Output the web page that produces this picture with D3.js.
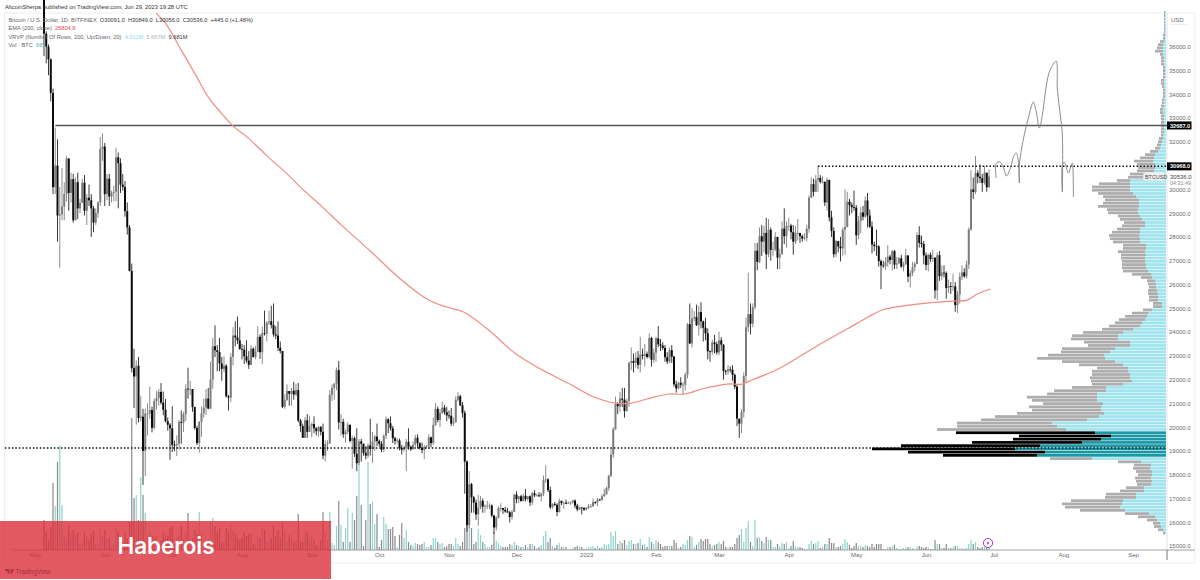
<!DOCTYPE html>
<meta charset="utf-8">
<style>
html, body { margin: 0; padding: 0; background: #fff; }
svg { display: block; font-family: "Liberation Sans", Arial, sans-serif; }
.tick text { fill: #6a6a6a; font-size: 6px; }
.legend { font-size: 5.7px; fill: #555; }
</style>
<body>
<svg class="js-chart" width="1200" height="580"></svg>

<script src="https://d3js.org/d3.v7.min.js"></script>
<script>
"use strict";

// daily bars, first bar is 2022-05-05
var firstDay = 4;
var firstOpen = 39690;
var closes = [
  36550,36000,35470,34060,30090,31000,28900,28950,29280,29800,31300,29850,30430,28700,30300,29200,29430,30280,29100,29650,29540,29200,28600,29000,29450,31700,31800,
  29800,30450,29700,29850,29900,31350,31100,30200,30100,29080,28400,26570,22480,22130,22580,20380,20440,19000,20570,20570,20720,19970,21100,21230,21480,21030,20730,20250,20100,19950,
  19250,19240,19300,20220,20190,20550,21620,21590,21600,20850,19960,19330,20220,20580,20830,21200,20780,22000,23400,23230,23160,22680,22450,22580,21300,21240,22950,23850,23770,23650,23290,
  23260,22980,22800,22620,23300,22950,23170,23800,23150,23950,23930,24400,24450,24300,23900,23850,23340,23200,20850,21150,21520,21400,21530,21370,21560,20270,20040,19550,20290,19800,20050,
  20130,19950,19830,20000,19800,18800,19290,19320,21360,21650,21830,22400,20200,20220,19700,19800,20100,19420,19540,18880,18480,19400,19300,18920,18800,19230,19080,19400,19600,19420,
  19300,19050,19630,20330,20160,19950,19530,19420,19440,19130,19050,19150,19380,19180,19070,19260,19550,19330,19120,19040,19160,19200,19570,19330,20090,20770,20300,20600,20820,20630,20490,
  20480,20150,20210,21150,21300,20920,20600,18550,15880,17600,17050,16820,16330,16620,16900,16660,16680,16700,16700,16280,15780,16200,16600,16600,16520,16450,16420,16220,16440,17160,
  16970,17090,16890,17110,16970,17090,16830,17220,17130,17130,17090,17200,17780,17800,17350,16630,16770,16730,16430,16900,16810,16820,16780,16830,16830,16910,16700,16540,16620,16600,16530,
  16610,16670,16670,16850,16830,16950,16940,17090,17190,17440,17950,18850,19920,20970,20880,21200,21150,20680,21100,22700,22780,22700,22920,22620,23050,23000,23080,22950,23750,22830,23130,
  23730,23480,23430,23330,22940,22760,23240,22960,21800,21630,21860,21780,21780,22200,24330,23520,24570,24630,24290,24840,24450,24180,23940,23190,23160,23560,23490,23140,
  23650,23470,22360,22350,22430,22410,22200,21700,20360,20150,20630,22150,24200,24750,24350,25050,27420,26950,28030,27800,28170,27270,28300,27460,27480,28000,27130,27270,28350,28030,28470,
  28470,28200,27800,28170,28170,28030,27930,27950,28340,29650,30220,29900,30400,30480,30320,30320,29450,30400,28820,28250,27270,27820,27600,27520,28300,28420,29480,29340,29250,29230,
  28070,28670,29030,28850,29530,28900,28430,27680,27620,27600,26980,26800,26780,26930,27170,27030,27400,26830,26890,27100,26750,26850,27220,26330,26480,26720,26870,28080,27750,27700,27220,
  26820,27250,27070,27120,25750,27230,26350,26500,26480,25850,25930,25900,25920,25130,25580,26330,26510,26340,26840,28310,30000,29890,30690,30530,30470,30270,30700,30090,30536
];
var highs = [
  39800,36650,36100,35500,34240,32600,32100,30100,30900,30300,31400,31300,30700,30650,30500,30700,29600,30450,30600,29800,30200,29800,29300,29200,29500,32200,32350,
  31950,30650,30650,29950,30150,31750,31550,31300,30650,30350,29450,28500,26880,23300,22800,22950,21300,20770,20780,21000,21700,20860,21200,21520,21600,21850,21500,21180,20400,20170,
  20880,19430,19650,20300,20700,20650,21800,22500,21950,21600,20850,20050,20250,20870,21200,21600,21650,22750,23750,24280,23450,23750,22950,22980,22650,21350,23100,24200,24450,24650,24200,
  23500,23450,23650,23200,23450,23350,23400,24250,23900,24220,24900,24450,24900,25100,25200,24250,24450,23600,23200,21380,21800,21500,21650,21900,21820,21860,20340,20150,20420,20550,20480,
  20200,20450,20000,20050,20050,20150,19450,19450,21550,21800,21850,22500,22780,20550,20350,19900,20200,20100,19650,19600,19950,19500,19500,19300,19200,19320,20350,19800,19680,20150,
  19480,19400,19700,20450,20370,20450,20050,19600,19550,19520,19250,19220,19500,19950,19220,19400,19680,19700,19350,19350,19250,19250,19700,19600,20400,21020,20870,20750,21080,20930,20850,
  20700,20800,20400,21300,21470,21360,21050,20700,18600,18150,17650,17100,16950,17150,17100,17000,16750,16900,16800,16750,16300,16250,16650,16800,16600,16650,16600,16480,16530,17200,
  17300,17100,17150,17200,17400,17100,17130,17280,17350,17200,17260,17250,17970,18390,17850,17500,16800,16850,16800,17000,16900,16860,16950,16870,16860,16940,16960,16780,16650,16630,16630,
  16630,16760,16770,17000,16880,17020,16990,17170,17400,17500,18000,19100,20000,21280,21050,21470,21650,21650,21200,22750,23350,23100,23150,23200,23800,23300,23500,23180,23950,23800,23300,
  23800,24250,23700,23570,23450,23150,23350,23450,23000,21950,21900,22100,21900,22300,24380,25200,25000,24880,25150,25100,25250,24480,24600,24150,23220,23680,23880,23600,
  24000,23780,23480,22420,22600,22550,22600,22250,21800,20300,20750,22300,24600,26500,25200,25200,27750,27750,28400,28500,28450,28800,28750,28400,27800,28200,28000,27500,28650,29200,28650,
  28800,28550,28500,28450,28750,28150,28100,28150,28500,29750,30500,30450,30600,31000,30600,30550,30320,30500,30400,29100,28400,27880,27830,28000,28400,30000,29900,29600,29450,29950,
  29340,28880,29250,29300,29700,29850,29150,28650,27800,28300,27650,27050,27000,27150,27650,27250,27450,27450,27150,27150,27250,26950,27500,27220,26600,26950,26950,28200,28450,28050,27830,
  27350,27300,27350,27450,27150,27350,27400,26800,26800,26550,26200,26100,26450,26100,25730,26500,26800,26680,27000,28400,30800,30500,31400,30800,31050,30650,31000,30700,30849
];
var lows = [
  35600,35300,34800,33700,29800,29800,27800,26700,28700,28700,29500,29100,29450,28600,28700,28750,29000,29450,28900,28500,29300,28000,28200,28500,28800,29300,31200,
  29300,29550,29300,29450,29500,29500,29200,29850,29950,28850,28100,26550,22300,20800,20100,20200,20250,17570,17950,19650,20350,19780,19900,20730,20900,20950,20500,20200,19850,18630,
  18950,18980,18780,19050,19300,19800,20250,21200,21350,20650,19900,19250,18920,19600,20400,20500,20750,20770,21600,22950,22350,22350,21950,22300,21250,20700,21050,22600,23400,23500,23250,
  22850,22650,22700,22450,22600,22920,22850,23150,22870,22660,23850,23600,24300,24150,23800,23700,23200,23100,20800,20770,21100,20900,20900,21150,21300,20200,19800,19550,19550,19550,19800,
  19570,19750,19650,19600,19650,18650,18550,19000,19300,21100,21150,21550,19900,19650,19550,19350,19700,19350,18250,18750,18150,18400,18550,18800,18650,18700,18800,18500,19000,19200,
  19170,18950,18950,19500,19750,19850,19330,19260,19320,19020,18850,18970,18150,19050,19000,19050,19170,19100,19050,18900,18650,19100,19080,19150,19250,20050,20200,20000,20550,20530,20250,
  20350,20050,20050,20180,21080,20880,20400,17200,15600,15750,16400,16400,16100,15850,16550,16400,16400,16550,16550,16200,15500,15650,16150,16450,16350,16400,16400,15990,16100,16430,
  16800,16800,16870,16880,16870,16900,16680,16730,17060,17090,17070,16870,17100,17650,17270,16550,16570,16680,16260,16400,16720,16560,16760,16780,16730,16780,16590,16460,16500,16330,16480,
  16490,16550,16600,16650,16750,16680,16900,16910,17080,17150,17320,17900,18700,19880,20550,20650,20850,20400,20650,20850,22400,22300,22500,22450,22300,22850,22550,22880,22880,22550,22700,
  22750,23360,23200,23250,22750,22650,22700,22700,21700,21450,21600,21650,21350,21550,22050,23500,23350,24450,24250,23850,24150,23600,23650,22850,22750,23050,23100,23050,
  23020,23200,22000,22200,22200,22300,21950,21600,20050,19550,19750,20400,21900,24000,23900,24200,24950,26600,26900,27200,27350,26650,27150,27000,27200,27400,26650,26650,27250,27700,27550,
  28250,27900,27250,27700,27850,27750,27800,27850,27800,28170,29630,29700,29900,29880,30250,30250,29300,29100,28650,28000,27130,27150,27350,26970,27200,27250,28400,28900,29000,29100,
  27670,27900,28150,28700,28800,28400,28380,27300,27400,27200,26750,25800,26700,26620,26750,26850,26600,26650,26650,26850,26700,26550,26820,26100,25870,26350,26550,26850,27550,27550,26850,
  26600,26550,26950,26950,25400,25350,26150,26200,26300,25400,25650,25600,25730,24850,24800,25200,26180,26280,26250,26650,28250,29600,29800,30250,30280,29900,30200,29900,30056
];
var volumes = [
  30,18,10,23,67,44,88,105,45,14,12,25,16,20,16,18,6,8,18,14,10,16,19,6,7,22,14,
  20,11,12,5,6,22,18,12,8,18,12,28,132,52,55,30,73,55,37,15,18,14,15,14,8,10,18,15,14,22,
  24,6,12,15,24,12,18,37,8,12,20,16,38,18,10,9,10,28,32,24,18,22,8,9,22,18,26,20,16,12,10,
  12,18,14,16,16,6,6,14,12,22,20,9,8,12,25,14,20,12,28,18,8,15,12,8,10,36,8,8,20,18,12,
  14,10,5,5,10,38,18,10,38,7,5,24,49,25,8,22,42,8,37,30,54,86,45,4,30,88,46,48,26,36,
  3,10,33,26,21,21,23,14,3,15,27,12,20,8,5,4,7,6,5,6,8,3,3,5,12,12,8,6,7,3,4,
  6,6,4,12,6,4,8,22,25,26,22,6,8,21,15,8,6,3,3,5,18,9,7,4,3,3,3,6,5,8,
  5,4,3,3,5,3,6,6,4,2,3,5,14,19,8,12,4,2,5,7,3,3,3,1,1,2,3,4,3,3,1,
  2,3,3,4,2,4,2,3,6,5,6,18,14,19,6,9,7,10,5,9,10,6,6,7,11,5,6,3,13,8,6,
  10,8,6,3,4,4,4,4,10,7,2,3,6,5,10,14,13,3,5,8,11,9,11,11,6,4,5,6,
  8,6,9,3,2,3,3,6,12,15,21,8,22,29,8,4,30,12,13,9,7,13,10,10,3,3,6,4,7,6,8,
  2,4,9,4,3,3,2,1,1,6,9,6,7,9,2,3,6,6,12,7,7,3,3,4,6,11,8,5,2,4,
  7,4,4,3,5,4,3,6,3,6,6,6,1,1,3,3,4,5,2,1,1,2,2,3,3,2,1,3,4,3,2,
  3,3,1,1,10,6,6,2,2,6,2,2,3,4,4,2,2,1,2,6,10,6,8,3,2,3,3,3,2
];

// EMA 200: days since 2022-05-01 and price
var emaDays = [53.8,58.3,65,71.7,77,82.8,88.6,94.8,103.7,111.7,118.4,127.3,136.2,149.5,162.9,174.9,182.9,190.5,201.6,213.2,223.9,238.5,247.4,257.7,265.2,271.9,281.7,288.8,296.4,307.5,314.2,318.6,325.3,332,340.9,349.8,360.9,370.3,376.5,385.4,396.5,407.7,414.3,418.8,424.6];
var emaPrices = [37413,36950,35857,34764,33880,33208,32619,32156,31357,30685,30054,29297,28498,27363,26185,25344,25050,24840,24083,23116,22485,21770,21308,21013,21013,21181,21392,21392,21602,21812,21812,21980,22233,22527,23032,23536,24125,24629,24924,25092,25218,25302,25344,25597,25807];

// the hand drawn projection
var brushDays = [427.2,427.2,429,430.8,431.7,433.5,435.2,436.1,437,437.5,437.5,439.2,441.5,443.7,445,446.4,447.7,449.5,450.8,452.6,453.9,454.4,455.7,456.6,456.6,456.6,457.5,459.3,460.2,461,461.5];
var brushPrices = [30475,31106,31148,30811,30559,30895,31442,31526,31232,30265,31022,32073,32998,33671,33251,32578,33125,34386,34933,35269,35395,34176,33125,32283,29886,31022,31148,30685,30895,31106,29676];

// VRVP rows from the bottom up
var rowTotals = [
  3,8,12,13,19,28,41,86,101,104,95,61,60,46,40,29,30,31,28,30,33,32,48,116,
  223,258,294,265,194,153,147,210,
  229,209,209,185,171,149,134,137,123,134,139,119,112,94,74,75,76,74,74,69,87,104,129,118,105,104,78,82,95,94,83,64,57,51,47,41,34,23,13,13,17,17,18,18,17,18,19,25,34,43,44,44,44,45,45,48,43,43,
  53,56,57,54,49,44,42,46,48,58,59,68,63,61,63,68,74,74,67,49,38,36,29,28,29,32,26,21,16,11,9,8,7,5,5,
  5,5,5,5,5,6,6,5,4,4,3,3,3,4,5,5,3,3,3,3,5,5,5,6,11,9,8,6,3,3,2,2,2,2,2,2,2
];
var rowUps = [
  1,3,5,6,9,11,17,41,46,44,43,30,30,22,22,15,14,15,14,14,16,15,25,74,
  129,121,151,126,84,65,55,71,
  100,109,114,79,67,62,65,65,63,69,69,69,60,60,43,34,36,36,38,38,43,51,61,62,56,51,36,36,48,48,43,33,26,24,21,19,18,14,4,4,8,8,8,9,10,10,11,14,15,18,20,20,21,21,20,21,20,20,
  26,26,27,26,26,21,21,24,26,28,28,27,27,27,30,33,36,36,36,36,23,20,12,11,11,13,12,11,8,6,5,4,3,3,2,
  2,2,2,2,2,3,3,2,2,2,1,1,1,2,2,2,1,1,1,1,2,2,2,3,3,3,3,2,1,1,1,1,1,1,1,1,1
];
var rowBase = 15470;
var rowSpan = 136;
var valueAreaFirst = 24;
var valueAreaLast = 31;

var priceTicks = [15000,16000,17000,18000,19000,20000,21000,22000,23000,24000,25000,26000,27000,28000,29000,30000,32000,33000,34000,35000,36000];
var monthStarts = ["2022-05-01","2022-06-01","2022-07-01","2022-08-01","2022-09-01","2022-10-01","2022-11-01","2022-12-01","2023-01-01","2023-02-01","2023-03-01","2023-04-01","2023-05-01","2023-06-01","2023-07-01","2023-08-01","2023-09-01"];
var monthLabels = ["May","Jun","Jul","Aug","Sep","Oct","Nov","Dec","2023","Feb","Mar","Apr","May","Jun","Jul","Aug","Sep"];

var levelPrices = [32687, 30968, 19121];
var levelStartDays = [9, 348, -13.4];
var boxedPrices = [32687, 30968];
var lastPrice = 30536;

var paneLeft = 4.5, paneTop = 13, paneRight = 1167, paneBottom = 550, frameRight = 1195, frameBottom = 563;
var upColor = "#7c7c7c", downColor = "#0c0c0c", upVolume = "#8fd3cc", downVolume = "#8a8a8a";

var svg = d3.select(".js-chart");

var x = d3.scaleUtc()
    .domain([Date.UTC(2022, 4, 1), Date.UTC(2023, 8, 1)])
    .range([35, 1133]);
var y = d3.scaleLinear().domain([15000, 36000]).range([546, 46.7]);
var volumeY = d3.scaleLinear().domain([0, 132]).range([paneBottom, 418]);
var rowX = d3.scaleLinear().domain([0, 294]).range([paneRight - 1, 872]);

function dayToDate(day) {
    return new Date(Date.UTC(2022, 4, 1) + day * 864e5);
}

var bars = closes.map(function(close, i) {
    return {
        date: dayToDate(firstDay + i),
        open: i ? closes[i - 1] : firstOpen,
        close: close,
        high: highs[i],
        low: lows[i],
        volume: volumes[i]
    };
});

// frame
svg.append("rect")
    .attr("x", paneLeft).attr("y", paneTop)
    .attr("width", frameRight - paneLeft).attr("height", frameBottom - paneTop)
    .attr("fill", "none").attr("stroke", "#eeeeee");
svg.append("line")
    .attr("x1", paneRight).attr("x2", paneRight).attr("y1", paneTop).attr("y2", paneBottom)
    .attr("stroke", "#e4e4e4");
svg.append("line")
    .attr("x1", paneRight).attr("x2", paneRight).attr("y1", paneBottom).attr("y2", frameBottom - 3)
    .attr("stroke", "#777");
svg.append("line")
    .attr("x1", 1170).attr("x2", 1188).attr("y1", 24.5).attr("y2", 24.5)
    .attr("stroke", "#eeeeee");

// volume
svg.append("g").selectAll("rect")
    .data(bars)
    .join("rect")
    .attr("x", function(d) { return x(d.date) - 0.6; })
    .attr("y", function(d) { return volumeY(d.volume); })
    .attr("width", 1.2)
    .attr("height", function(d) { return paneBottom - volumeY(d.volume); })
    .attr("fill", function(d) { return d.close >= d.open ? upVolume : downVolume; });

// VRVP
var rows = rowTotals.map(function(total, i) {
    return { index: i, total: total, up: rowUps[i], price: rowBase + i * rowSpan };
});
var inValueArea = function(d) { return d.index >= valueAreaFirst && d.index <= valueAreaLast; };
var rowHeight = y(rowBase) - y(rowBase + rowSpan) - 0.5;

svg.append("g").selectAll("rect")
    .data(rows)
    .join("rect")
    .attr("x", function(d) { return rowX(d.up); })
    .attr("y", function(d) { return y(d.price + rowSpan); })
    .attr("width", function(d) { return rowX(0) - rowX(d.up); })
    .attr("height", rowHeight)
    .attr("fill", function(d) { return inValueArea(d) ? "#1a98a6" : "#a2e4ee"; });
svg.append("g").selectAll("rect")
    .data(rows)
    .join("rect")
    .attr("x", function(d) { return rowX(d.total); })
    .attr("y", function(d) { return y(d.price + rowSpan); })
    .attr("width", function(d) { return rowX(d.up) - rowX(d.total); })
    .attr("height", rowHeight)
    .attr("fill", function(d) { return inValueArea(d) ? "#000" : "#adadad"; });

// candles
var candles = svg.append("g");
candles.selectAll("line")
    .data(bars)
    .join("line")
    .attr("x1", function(d) { return x(d.date); })
    .attr("x2", function(d) { return x(d.date); })
    .attr("y1", function(d) { return y(d.high); })
    .attr("y2", function(d) { return y(d.low); })
    .attr("stroke", function(d) { return d.close >= d.open ? "#8c8c8c" : "#3a3a3a"; })
    .attr("stroke-width", 1);
candles.selectAll("rect")
    .data(bars)
    .join("rect")
    .attr("x", function(d) { return x(d.date) - 1; })
    .attr("y", function(d) { return y(Math.max(d.open, d.close)); })
    .attr("width", 2)
    .attr("height", function(d) { return Math.max(0.8, Math.abs(y(d.open) - y(d.close))); })
    .attr("fill", function(d) { return d.close >= d.open ? upColor : downColor; });

// levels
levelPrices.forEach(function(price, i) {
    var line = svg.append("line")
        .attr("x1", x(dayToDate(levelStartDays[i])))
        .attr("x2", paneRight)
        .attr("y1", y(price))
        .attr("y2", y(price));
    if (i === 0) {
        line.attr("stroke", "#555").attr("stroke-width", 1.6);
    } else {
        line.attr("stroke", "#111").attr("stroke-width", 1.5).attr("stroke-dasharray", "1.5 2");
    }
});

// EMA and drawing
var emaLine = d3.line()
    .x(function(d) { return x(dayToDate(d[0])); })
    .y(function(d) { return y(d[1]); })
    .curve(d3.curveCatmullRom);

svg.append("path")
    .attr("d", emaLine(d3.zip(emaDays, emaPrices)))
    .attr("fill", "none").attr("stroke", "#f08c82").attr("stroke-width", 1.2);
svg.append("path")
    .attr("d", emaLine(d3.zip(brushDays, brushPrices)))
    .attr("fill", "none").attr("stroke", "#808080").attr("stroke-width", 0.9);

// axes
svg.append("line")
    .attr("x1", 13).attr("x2", frameRight).attr("y1", paneBottom).attr("y2", paneBottom)
    .attr("stroke", "#8a8a8a").attr("stroke-width", 0.8);

var xAxis = svg.append("g")
    .attr("transform", "translate(0," + paneBottom + ")")
    .call(d3.axisBottom(x)
        .tickValues(monthStarts.map(function(d) { return new Date(d); }))
        .tickSize(0)
        .tickPadding(3)
        .tickFormat(function(d, i) { return monthLabels[i]; }));
xAxis.select(".domain").remove();
xAxis.selectAll("text").style("font-family", "inherit");

var yAxis = svg.append("g")
    .attr("transform", "translate(1169,0)")
    .call(d3.axisRight(y)
        .tickValues(priceTicks)
        .tickSize(0)
        .tickPadding(0)
        .tickFormat(d3.format(".1f")));
yAxis.select(".domain").remove();
yAxis.selectAll("text").style("font-family", "inherit");

svg.append("text")
    .attr("x", 1171).attr("y", 21.5)
    .attr("font-size", 6).attr("fill", "#6a6a6a")
    .text("USD");

// boxed prices on the axis
var boxes = svg.append("g").selectAll("g")
    .data(boxedPrices)
    .join("g")
    .attr("transform", function(d) { return "translate(1167," + y(d) + ")"; });
boxes.append("rect")
    .attr("x", 0).attr("y", -4).attr("width", 24.5).attr("height", 8).attr("fill", "#000");
boxes.append("text")
    .attr("x", 3).attr("y", 2.1)
    .attr("font-size", 5.6).attr("font-weight", "bold").attr("fill", "#fff")
    .text(function(d) { return d3.format(".1f")(d); });

// last price tag
svg.append("rect")
    .attr("x", 1143.5).attr("y", y(lastPrice) - 4).attr("width", 21).attr("height", 8)
    .attr("fill", "#f0f0f0");
svg.append("text")
    .attr("x", 1145).attr("y", y(lastPrice) + 2)
    .attr("font-size", 5.4).attr("fill", "#444")
    .text("BTCUSD");
svg.append("text")
    .attr("x", 1170).attr("y", y(lastPrice) + 2)
    .attr("font-size", 6).attr("fill", "#444")
    .text(d3.format(".1f")(lastPrice));
svg.append("text")
    .attr("x", 1170).attr("y", y(lastPrice) + 8.5)
    .attr("font-size", 5.4).attr("fill", "#8a8a8a")
    .text("04:31:49");

// header and legend
svg.append("text")
    .attr("x", 5).attr("y", 9)
    .attr("font-size", 5.8)
    .attr("fill", "#333")
    .text("AltcoinSherpa published on TradingView.com, Jun 29, 2023 19:28 UTC");

var legendRows = [
    [["Bitcoin / U.S. Dollar, 1D, BITFINEX  ", "#666"], ["O30091.0  H30849.0  L30056.0  C30536.0  +445.0 (+1.48%)", "#333"]],
    [["EMA (200, close)  ", "#666"], ["25804.8", "#e5484d"]],
    [["VRVP (Number Of Rows, 200, Up/Down, 20)  ", "#666"], ["4.011M  ", "#8fdbe6"], ["5.667M  ", "#b0b0b0"], ["9.681M", "#333"]],
    [["Vol \u00b7 BTC  ", "#666"], ["885", "#5fb8ae"]]
];
legendRows.forEach(function(parts, i) {
    var row = svg.append("text")
        .attr("class", "legend")
        .attr("x", 8.5)
        .attr("y", 22 + i * 8.35)
        .attr("xml:space", "preserve")
        .style("white-space", "pre");
    parts.forEach(function(part) {
        row.append("tspan").style("fill", part[1]).text(part[0]);
    });
});

// replay marker
var marker = svg.append("g").attr("transform", "translate(988,543)");
marker.append("circle").attr("r", 4.6).attr("fill", "#fff").attr("stroke", "#9c27b0").attr("stroke-width", 0.9);
marker.append("path").attr("d", "M1,-2.8L-1.6,0.4H0L-1,2.8L1.6,-0.4H0Z").attr("fill", "#9c27b0");

// banner on top of everything
svg.append("rect")
    .attr("x", 0).attr("y", 521).attr("width", 331).attr("height", 58)
    .attr("fill", "#dc2f3a").attr("fill-opacity", 0.8);
svg.append("text")
    .attr("x", 117.5).attr("y", 553.5)
    .attr("font-family", "Inter, Roboto, sans-serif")
    .attr("font-size", 22.4)
    .attr("font-weight", 600)
    .attr("fill", "#fff")
    .text("Haberois");
svg.append("path")
    .attr("d", "M5,569H9.5V573.5H7.5V571H5ZM10,573.5L12,569H14L12,573.5ZM9.6,570a1,1 0 1,0 0.01,0Z")
    .attr("fill", "#a8343c");
svg.append("text")
    .attr("x", 15.5).attr("y", 573.5)
    .attr("font-size", 6.4)
    .attr("fill", "#a8343c")
    .text("TradingView");
</script>
</body>
